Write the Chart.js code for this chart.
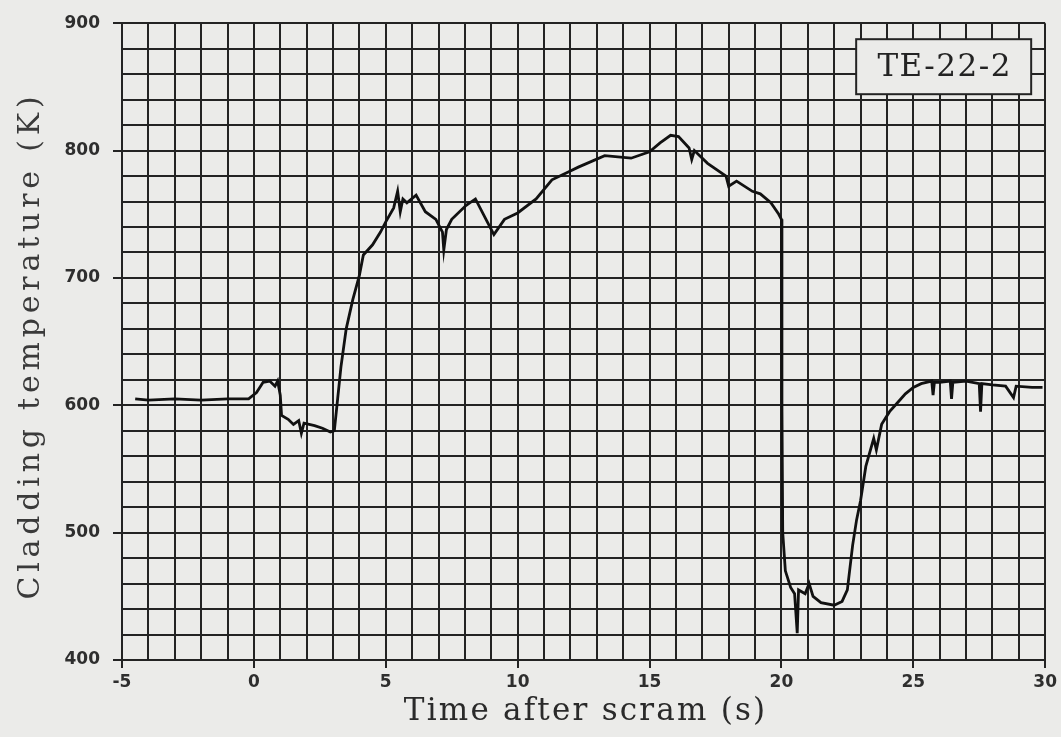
<!DOCTYPE html>
<html>
<head>
<meta charset="utf-8">
<script src="https://cdn.jsdelivr.net/npm/chart.js@4.4.1/dist/chart.umd.min.js"></script>
<style>
    html, body { margin: 0; padding: 0; background: #ebebe9; }
    #wrap { width: 1061px; height: 737px; position: relative; }
</style>
</head>
<body>
<div id="wrap"><canvas id="claddingChart"></canvas></div>
<script>
// Time after scram (s) and cladding temperature (K)
const timeSec = [
    -4.5, -4.0, -3.0, -2.0, -1.0, -0.2, 0.1, 0.35, 0.6, 0.8, 0.9, 1.0, 1.05, 1.3, 1.5, 1.7, 1.8, 1.9,
    2.3, 2.6, 2.9, 3.05, 3.15, 3.3, 3.5, 3.75, 4.0, 4.15, 4.5, 4.8, 5.0, 5.3, 5.45, 5.55, 5.65, 5.8,
    6.15, 6.5, 6.9, 7.15, 7.2, 7.3, 7.5, 8.05, 8.4, 8.8, 9.1, 9.5, 10.0, 10.7, 11.3, 11.9, 12.3, 13.3,
    14.3, 15.0, 15.4, 15.8, 16.1, 16.5, 16.6, 16.7, 17.2, 17.9, 18.0, 18.3, 18.9, 19.2, 19.6, 19.9,
    20.0, 20.02, 20.05, 20.15, 20.35, 20.5, 20.6, 20.65, 20.9, 21.05, 21.2, 21.5, 22.0, 22.3, 22.5,
    22.7, 22.85, 23.0, 23.2, 23.5, 23.6, 23.8, 24.1, 24.4, 24.7, 25.0, 25.3, 25.7, 25.75, 25.8, 26.0,
    26.4, 26.45, 26.5, 27.0, 27.5, 27.55, 27.6, 28.0, 28.5, 28.8, 28.9, 29.5, 29.9
];
const claddingK = [
    605, 604, 605, 604, 605, 605, 610, 618, 619, 615, 619, 608, 592, 589, 585, 588, 578, 586,
    584, 582, 579, 580, 600, 630, 660, 683, 702, 718, 726, 736, 744, 755, 768, 752, 762, 759,
    765, 752, 746, 736, 722, 738, 746, 757, 762, 746, 734, 746, 751, 762, 777, 783, 787, 796,
    794, 799, 806, 812, 811, 802, 793, 800, 790, 780, 772, 776, 768, 766, 759, 750,
    746, 600, 500, 470, 457, 452, 421, 455, 452, 460, 450, 445, 443, 446, 455,
    490, 510, 525, 552, 574, 565, 585, 595, 602, 609, 614, 617, 619, 608, 618, 618,
    619, 605, 618, 619, 617, 595, 617, 616, 615, 606, 615, 614, 614
];

const xTickLabels = [-5, 0, 5, 10, 15, 20, 25, 30];
const yTickLabels = [400, 500, 600, 700, 800, 900];
const probeName = 'TE-22-2';
const xTitle = 'Time after scram (s)';
const yTitle = 'Cladding temperature (K)';

const ink = '#232323';
const paper = '#ebebe9';

const points = timeSec.map((t, i) => ({ x: t, y: claddingK[i] }));

// probe tag and the two typewriter-spaced axis titles
const extrasPlugin = {
    id: 'extras',
    afterDraw(chart) {
        const { ctx, chartArea } = chart;
        const spaced = 'letterSpacing' in ctx;
        ctx.save();
        const bw = 175, bh = 55;
        const bx = chartArea.right - 14 - bw;
        const by = chartArea.top + 16;
        ctx.fillStyle = paper;
        ctx.fillRect(bx, by, bw, bh);
        ctx.strokeStyle = ink;
        ctx.lineWidth = 2;
        ctx.strokeRect(bx, by, bw, bh);
        ctx.fillStyle = ink;
        ctx.font = '31px "DejaVu Serif"';
        ctx.textAlign = 'center';
        ctx.textBaseline = 'middle';
        if (spaced) ctx.letterSpacing = '1.5px';
        ctx.fillText(probeName, bx + bw / 2 + 1, by + bh / 2 + 1);

        // x title
        ctx.font = '31px "DejaVu Serif"';
        ctx.fillStyle = '#2a2a2a';
        if (spaced) ctx.letterSpacing = '2.2px';
        ctx.fillText(xTitle, (chartArea.left + chartArea.right) / 2 + 2, 712);

        // y title
        ctx.font = '30px "DejaVu Serif"';
        ctx.translate(31, (chartArea.top + chartArea.bottom) / 2 + 4);
        ctx.rotate(-Math.PI / 2);
        ctx.fillStyle = '#3a3a3a';
        if (spaced) ctx.letterSpacing = '4.8px';
        ctx.fillText(yTitle, 0, 0);
        ctx.restore();
    }
};

const ctx = document.getElementById('claddingChart').getContext('2d');
new Chart(ctx, {
    type: 'line',
    data: {
        datasets: [{
            data: points,
            borderColor: '#111',
            borderWidth: 2.8,
            pointRadius: 0,
            tension: 0,
            fill: false
        }]
    },
    options: {
        responsive: true,
        maintainAspectRatio: false,
        animation: false,
        layout: {
            padding: { left: 0, right: 14, top: 20, bottom: 8 }
        },
        scales: {
            x: {
                type: 'linear',
                min: -5,
                max: 30,
                afterFit: function (scale) { scale.height = 69; },
                ticks: {
                    stepSize: 1,
                    autoSkip: false,
                    maxRotation: 0,
                    padding: 4,
                    color: '#2e2e2e',
                    font: { family: 'DejaVu Sans', size: 17, weight: 'bold' },
                    callback: v => xTickLabels.includes(v) ? String(v) : ''
                },
                grid: {
                    color: ink,
                    lineWidth: 2,
                    tickLength: 8,
                    tickColor: c => xTickLabels.includes(c.tick && c.tick.value) ? ink : 'rgba(0,0,0,0)'
                },
                border: { color: ink, width: 2 }
            },
            y: {
                min: 400,
                max: 900,
                afterFit: function (scale) { scale.width = 122; },
                ticks: {
                    stepSize: 20,
                    autoSkip: false,
                    padding: 13,
                    color: '#2e2e2e',
                    font: { family: 'DejaVu Sans', size: 17, weight: 'bold' },
                    callback: v => yTickLabels.includes(v) ? String(v) : ''
                },
                grid: {
                    color: ink,
                    lineWidth: 2,
                    tickLength: 9,
                    tickColor: c => yTickLabels.includes(c.tick && c.tick.value) ? ink : 'rgba(0,0,0,0)'
                },
                border: { color: ink, width: 2 }
            }
        },
        plugins: {
            legend: { display: false },
            tooltip: { enabled: false }
        }
    },
    plugins: [extrasPlugin]
});
</script>
</body>
</html>
